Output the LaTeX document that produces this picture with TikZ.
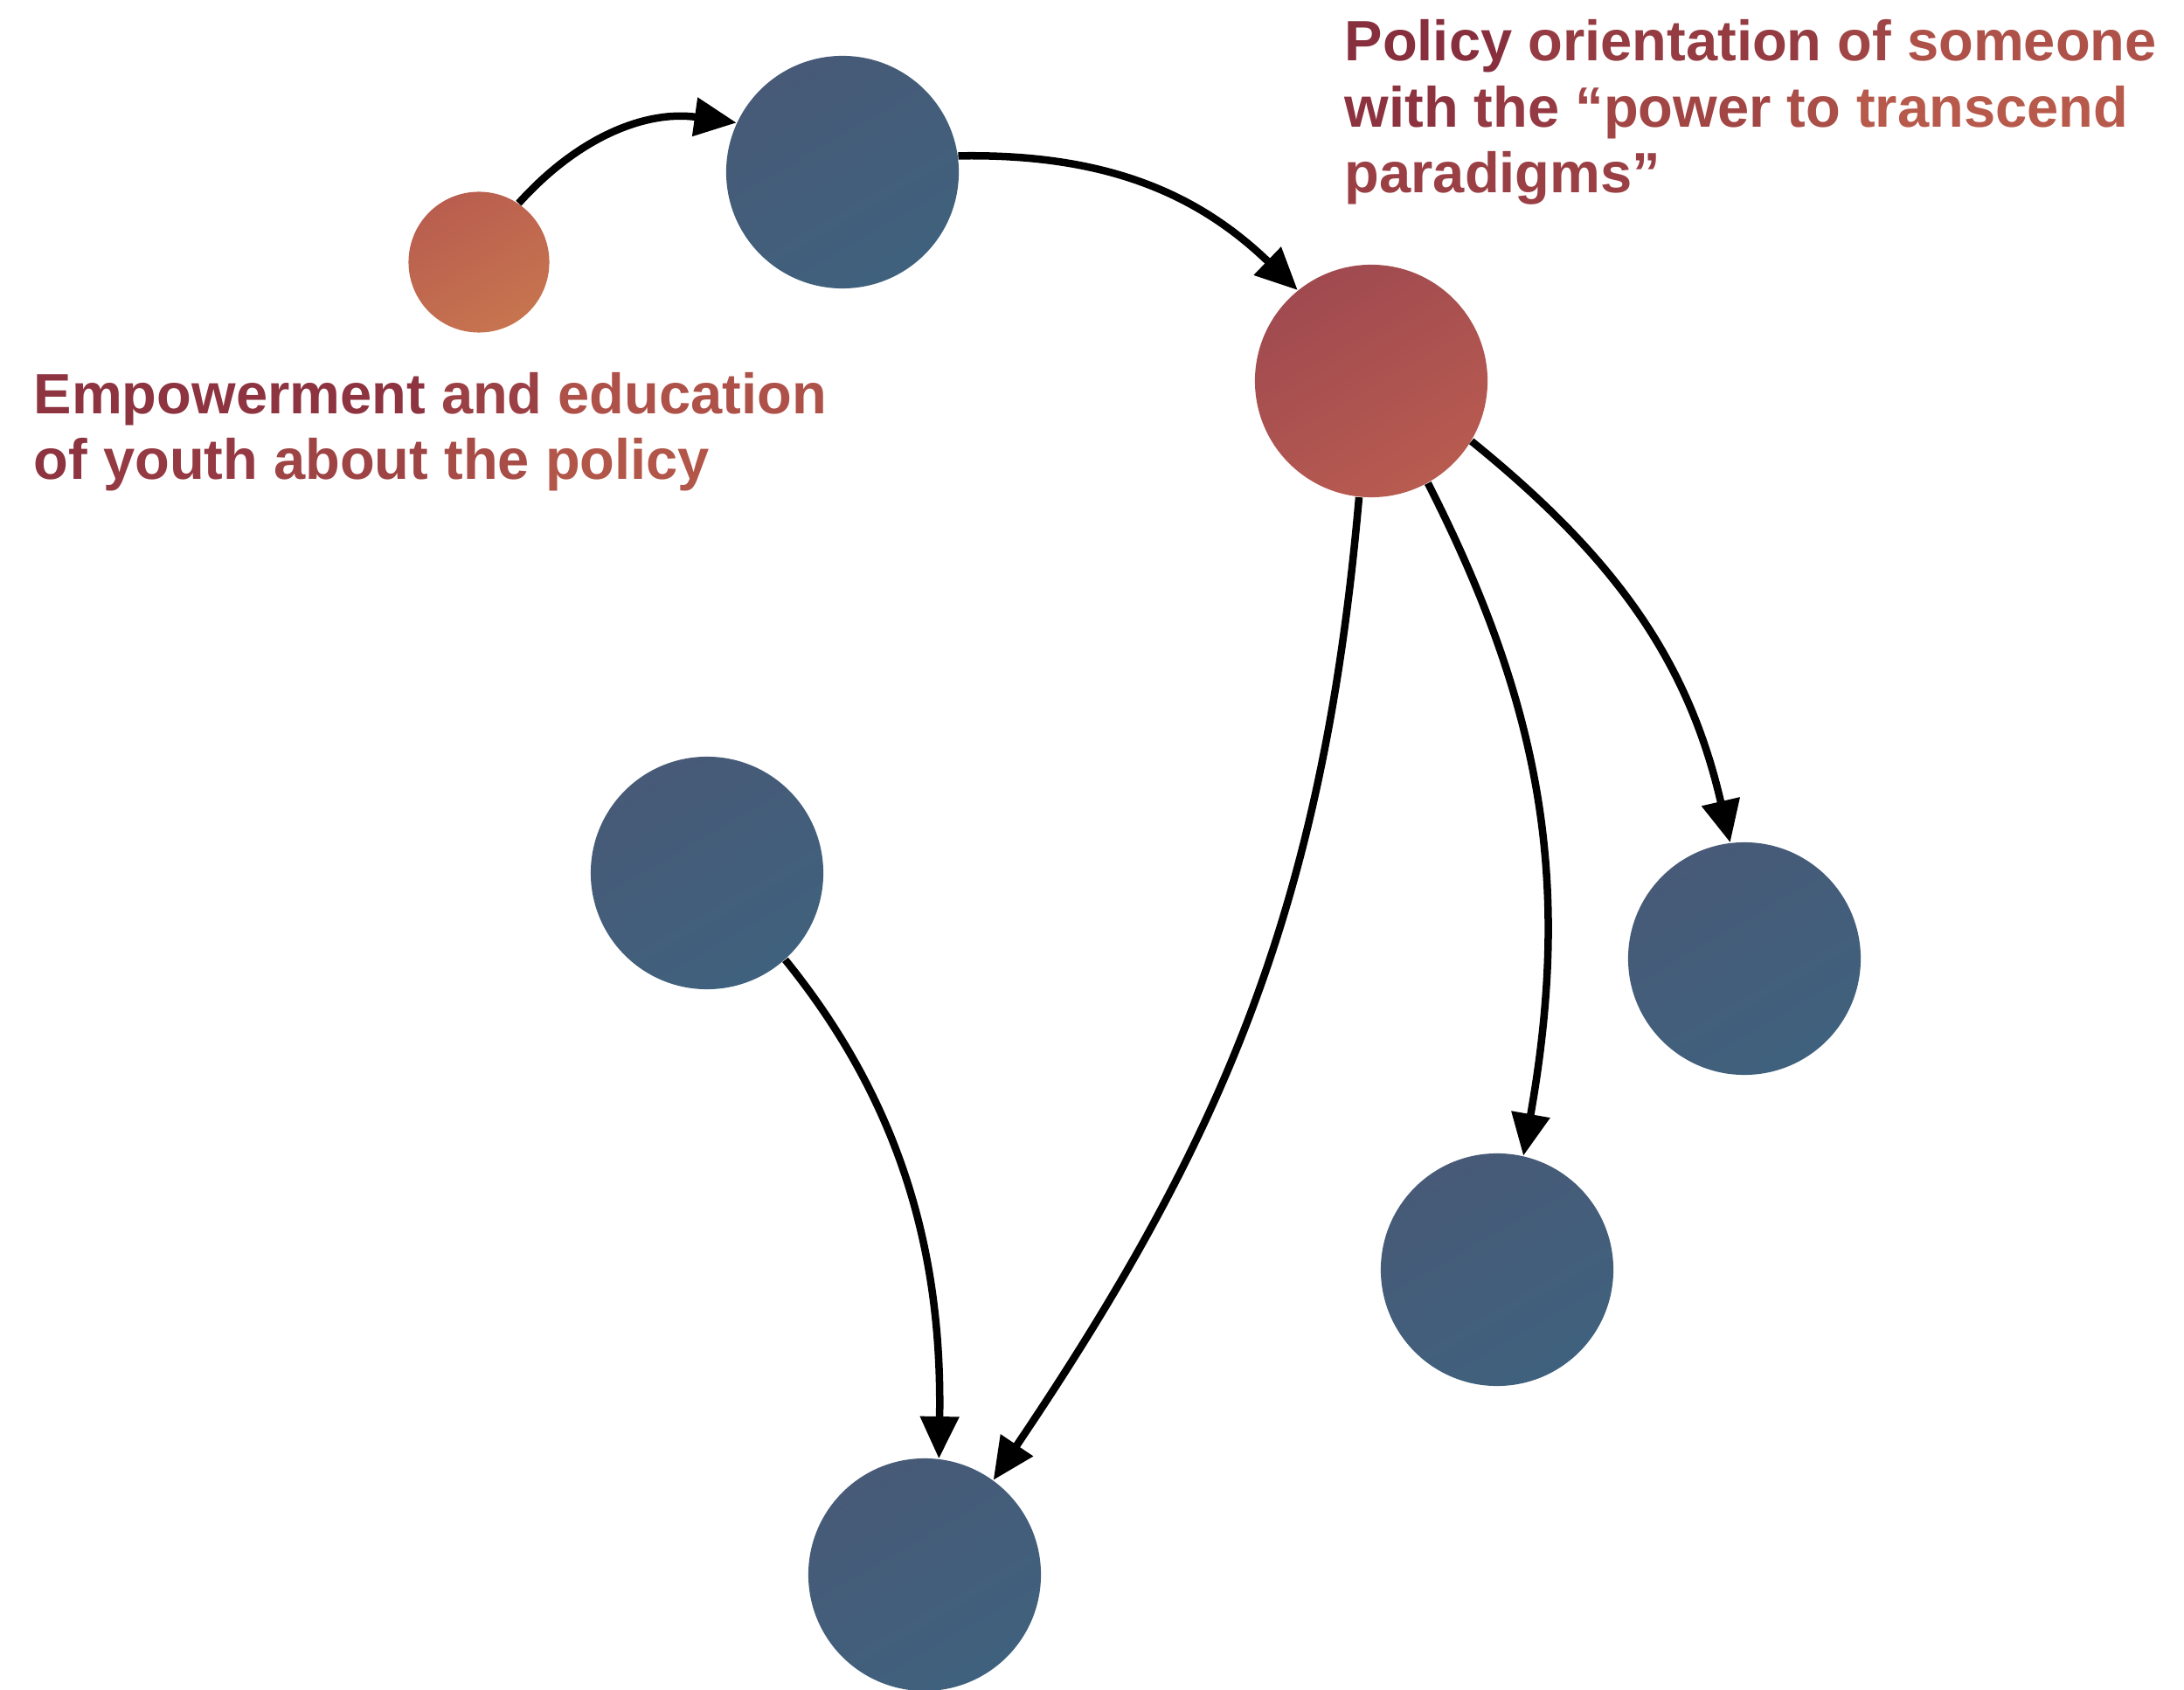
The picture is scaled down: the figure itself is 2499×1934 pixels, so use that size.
\documentclass[tikz,border=0pt]{standalone}
\usepackage{fontspec}
\setmainfont{Liberation Sans}
\usetikzlibrary{arrows.meta}
\definecolor{tdark}{HTML}{842B3D}
\definecolor{tlight}{HTML}{C2644F}
\definecolor{blA}{HTML}{475A77}
\definecolor{blB}{HTML}{3F617D}
\definecolor{rdA}{HTML}{A04A50}
\definecolor{rdB}{HTML}{B85B50}
\definecolor{orA}{HTML}{B95E4F}
\definecolor{orB}{HTML}{C7744F}
\newcommand{\gw}[2]{\textcolor{tlight!#1!tdark}{#2}}
\tikzset{
  dot/.style={circle, inner sep=0pt, draw=none, minimum size=2.66cm},
  bluedot/.style={dot, top color=blA, bottom color=blB, shading angle=30},
  reddot/.style={dot, top color=rdA, bottom color=rdB, shading angle=30},
  smalldot/.style={dot, minimum size=1.61cm, top color=orA, bottom color=orB, shading angle=30},
  link/.style={line width=2.42pt, -{Triangle[length=13.7pt,width=12.2pt]}},
  label/.style={font=\bfseries\fontsize{18.5}{21.6}\selectfont, align=left, inner sep=0pt, anchor=base west}
}
\begin{document}
\begin{tikzpicture}[x=0.01cm, y=0.01cm]
\useasboundingbox (0,0) rectangle (2499,-1934);
\fill[white] (0,0) rectangle (2499,-1934);
\node[smalldot] (A) at (548,-300) {};
\node[bluedot] (B) at (964,-197) {};
\node[reddot] (C) at (1569,-436) {};
\node[bluedot] (D) at (809,-999) {};
\node[bluedot] (E) at (1996,-1097) {};
\node[bluedot] (F) at (1713,-1453) {};
\node[bluedot] (G) at (1058,-1802) {};

\draw[link] (A.56) to[out=48,in=172] (B.155);
\draw[link] (B.8) to[out=1,in=136] (C.129);
\draw[link] (C.-31) to[out=-39,in=103] (E.97);
\draw[link] (C.-61) to[out=-63,in=80] (F.77);
\draw[link] (C.-96) to[out=-95,in=56] (G.54);
\draw[link] (D.-48) to[out=-51,in=89,looseness=0.95] (G.83);

\node[label] (T1) at (38,-549) {\gw{15}{Empowerment} \gw{37}{and} \gw{67}{education}\\
\gw{15}{of} \gw{27}{youth} \gw{44}{about} \gw{58}{the} \gw{75}{policy}};
\node[label] (T2) at (1538,-221) {\gw{7}{Policy} \gw{28}{orientation} \gw{46}{of} \gw{68}{someone}\\
\gw{14}{with} \gw{27}{the} \gw{47}{“power} \gw{61}{to} \gw{82}{transcend}\\
\gw{36}{paradigms”}};
\end{tikzpicture}
\end{document}
